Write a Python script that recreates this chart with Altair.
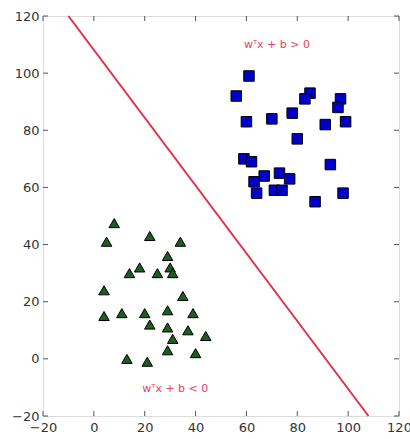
import altair as alt
import pandas as pd

# Class +1 (blue squares)
sq_x = [61, 56, 85, 83, 97, 96, 78, 60, 70, 91, 99, 80, 59, 62, 93, 67, 73, 77, 63, 64, 71, 74, 87, 98]
sq_y = [99, 92, 93, 91, 91, 88, 86, 83, 84, 82, 83, 77, 70, 69, 68, 64, 65, 63, 62, 58, 59, 59, 55, 58]

# Class -1 (green triangles)
tr_x = [8, 5, 22, 34, 29, 18, 14, 25, 30, 31, 4, 35, 4, 11, 20, 29, 39, 22, 29, 37, 44, 31, 29, 40, 13, 21]
tr_y = [47.5, 41, 43, 41, 36, 32, 30, 30, 32, 30, 24, 22, 15, 16, 16, 17, 16, 12, 11, 10, 8, 7, 3, 2, 0, -1]

# Separating line endpoints
line_x = [-10, 108]
line_y = [120, -20]

ticks = [-20, 0, 20, 40, 60, 80, 100, 120]

ann_text = ["w\u1d40x + b > 0", "w\u1d40x + b < 0"]
ann_x = [59, 19]
ann_y = [110, -10.5]

W, H = 356, 400
dom = [-20, 120]

xs = alt.Scale(domain=dom, nice=False, zero=False)
ys = alt.Scale(domain=dom, nice=False, zero=False)

axis_x = alt.Axis(values=ticks, tickSize=0, labelPadding=5, domain=False, grid=False,
                  labelFont="DejaVu Sans", labelFontSize=13, labelColor="#333", title=None,
                  labelFlush=False)
axis_y = alt.Axis(values=ticks, tickSize=0, labelPadding=4, domain=False, grid=False,
                  labelFont="DejaVu Sans", labelFontSize=13, labelColor="#333", title=None,
                  labelFlush=False)

sq_df = pd.DataFrame({"x": sq_x, "y": sq_y})
tr_df = pd.DataFrame({"x": tr_x, "y": tr_y})
ln_df = pd.DataFrame({"x": line_x, "y": line_y})
tk_df = pd.DataFrame({"t": ticks})
an_df = pd.DataFrame({"x": ann_x, "y": ann_y, "text": ann_text})

base_axes = alt.Chart(tk_df).mark_point(opacity=0).encode(
    x=alt.X("t:Q", scale=xs, axis=axis_x),
    y=alt.Y("t:Q", scale=ys, axis=axis_y),
)

line = alt.Chart(ln_df).mark_line(color="#e0304a", strokeWidth=2).encode(
    x=alt.X("x:Q", scale=xs), y=alt.Y("y:Q", scale=ys)
)

squares = alt.Chart(sq_df).mark_point(shape="square", filled=True, fill="#0000c8",
                                      stroke="black", strokeWidth=1, size=110, opacity=1).encode(
    x=alt.X("x:Q", scale=xs), y=alt.Y("y:Q", scale=ys)
)

tris = alt.Chart(tr_df).mark_point(shape="triangle-up", filled=True, fill="#1b5e20",
                                   stroke="black", strokeWidth=1, size=110, opacity=1).encode(
    x=alt.X("x:Q", scale=xs), y=alt.Y("y:Q", scale=ys)
)

ann = alt.Chart(an_df).mark_text(align="left", baseline="middle", font="DejaVu Sans",
                                 fontSize=11, color="#e8405a").encode(
    x=alt.X("x:Q", scale=xs), y=alt.Y("y:Q", scale=ys), text="text:N"
)

tick_color = "#555"
tb = alt.Chart(tk_df).mark_rule(color=tick_color, strokeWidth=1).encode(
    x=alt.X("t:Q", scale=xs), y=alt.value(H), y2=alt.value(H - 5))
tt = alt.Chart(tk_df).mark_rule(color=tick_color, strokeWidth=1).encode(
    x=alt.X("t:Q", scale=xs), y=alt.value(0), y2=alt.value(5))
tl = alt.Chart(tk_df).mark_rule(color=tick_color, strokeWidth=1).encode(
    y=alt.Y("t:Q", scale=ys), x=alt.value(0), x2=alt.value(5))
tr = alt.Chart(tk_df).mark_rule(color=tick_color, strokeWidth=1).encode(
    y=alt.Y("t:Q", scale=ys), x=alt.value(W), x2=alt.value(W - 5))

chart = alt.layer(base_axes, tb, tt, tl, tr, line, squares, tris, ann).properties(
    width=W, height=H,
    autosize=alt.AutoSizeParams(type="none"),
    padding={"left": 43, "top": 16, "right": 11, "bottom": 23},
).configure_view(stroke="#444", strokeWidth=1.2).configure(background="white")

chart.save("out.html", embed_options={"renderer": "svg", "actions": False})
